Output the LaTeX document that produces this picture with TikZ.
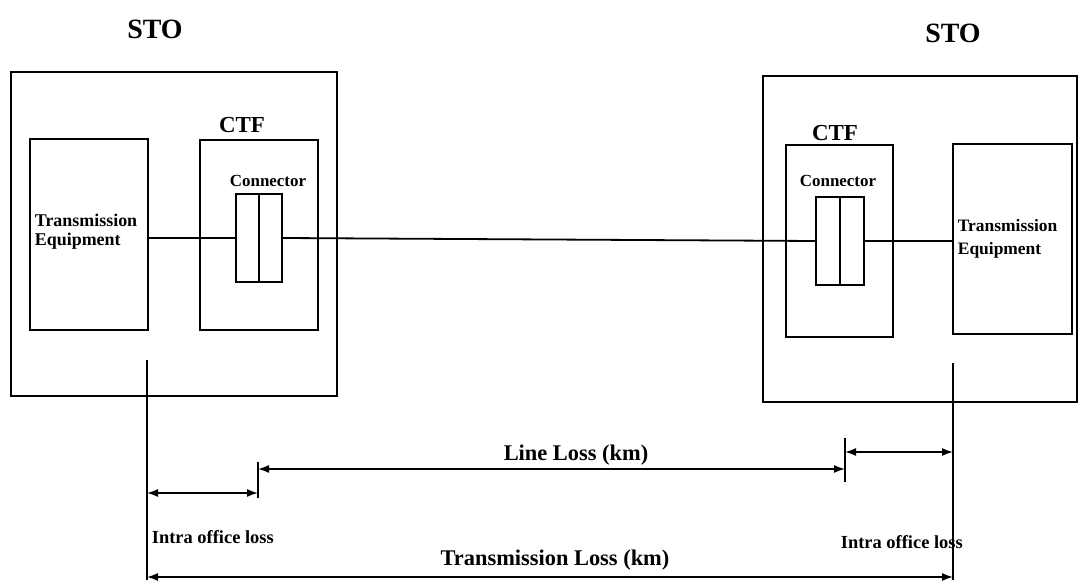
\documentclass[tikz,border=0pt]{standalone}
\usepackage{fontspec}
\setmainfont{Liberation Serif}
\usetikzlibrary{arrows.meta}
\begin{document}
\begin{tikzpicture}[x=1bp,y=-1bp,
  line width=1.8bp,
  box/.style={draw,rectangle,inner sep=0pt},
  lbl/.style={font=\bfseries\fontsize{#1}{#1}\selectfont,inner sep=0pt},
  dim/.style={{Latex[length=11bp,width=8bp]}-{Latex[length=11bp,width=8bp]},line width=1.6bp},
  tick/.style={line width=1.3bp}]
\useasboundingbox (0,0) rectangle (1080,585);
% STO boxes
\node[box,minimum width=326bp,minimum height=324bp] (stoL) at (174,234) {};
\node[box,minimum width=314bp,minimum height=326bp] (stoR) at (920,239) {};
\node[lbl=28] (stoLt) at (155,29) {STO};
\node[lbl=28] (stoRt) at (953,33) {STO};
% transmission equipment
\node[box,minimum width=118bp,minimum height=191bp] (teL) at (89,234.5) {};
\node[box,minimum width=119bp,minimum height=190bp] (teR) at (1012.5,239) {};
\node[lbl=18,anchor=west,align=left] (teLt) at (34,232) {Transmission\\[1bp]Equipment};
\node[lbl=17.5,anchor=west,align=left] (teRt) at (957,239) {Transmission\\[6bp]Equipment};
% CTF
\node[box,minimum width=118bp,minimum height=190bp] (ctfL) at (259,235) {};
\node[box,minimum width=107bp,minimum height=192bp] (ctfR) at (839.5,241) {};
\node[lbl=23] (ctfLt) at (242,125) {CTF};
\node[lbl=23] (ctfRt) at (835,133) {CTF};
\node[lbl=17] (conLt) at (268,181) {Connector};
\node[lbl=17] (conRt) at (838,181) {Connector};
% connectors
\node[box,minimum width=46bp,minimum height=88bp] (connL) at (259,238) {};
\node[box,minimum width=48bp,minimum height=88bp] (connR) at (840,241) {};
\draw (connL.north) -- (connL.south);
\draw (connR.north) -- (connR.south);
% fibre line
\draw (teL.east |- connL.west) -- (connL.west);
\draw (connL.east) -- (connR.west);
\draw (connR.east) -- (teR.west |- connR.east);
% reference verticals
\coordinate (vLt) at (147,360);
\coordinate (vLb) at (147,580);
\coordinate (vRt) at (953,363);
\coordinate (vRb) at (953,580);
\draw (vLt) -- (vLb);
\draw (vRt) -- (vRb);
% ticks
\coordinate (tLt) at (258,462);
\coordinate (tLb) at (258,498);
\coordinate (tRt) at (845,438);
\coordinate (tRb) at (845,482);
\draw[tick] (tLt) -- (tLb);
\draw[tick] (tRt) -- (tRb);
% dimension arrows
\draw[dim] (vLt |- 0,493) -- (tLt |- 0,493);
\draw[dim] (tLt |- 0,469) -- (tRt |- 0,469);
\draw[dim] (tRt |- 0,452) -- (vRt |- 0,452);
\draw[dim] (vLt |- 0,577) -- (vRt |- 0,577);
% labels
\node[lbl=22.5] (ll) at (576,455) {Line Loss (km)};
\node[lbl=22.5] (tl) at (555,560) {Transmission Loss (km)};
\node[lbl=18.5,anchor=west] (iL) at (151,537) {Intra office loss};
\node[lbl=18.5,anchor=west] (iR) at (840,542) {Intra office loss};
\end{tikzpicture}
\end{document}
